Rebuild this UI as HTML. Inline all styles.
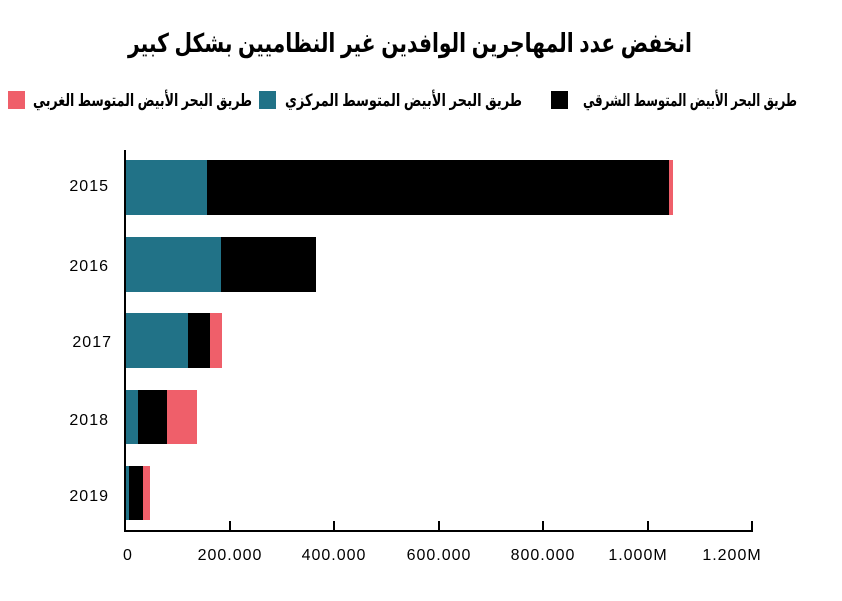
<!DOCTYPE html>
<html><head><meta charset="utf-8"><style>
body{margin:0;background:#fff;}
svg text{font-family:"Liberation Sans","DejaVu Sans",sans-serif;}
</style></head><body>
<svg width="842" height="596" viewBox="0 0 842 596" xmlns="http://www.w3.org/2000/svg">
<rect width="842" height="596" fill="#fff"/>
<text x="410" y="52" text-anchor="middle" font-size="26" font-weight="bold" fill="#000" direction="rtl" textLength="564" lengthAdjust="spacingAndGlyphs">انخفض عدد المهاجرين الوافدين غير النظاميين بشكل كبير</text>
<rect x="551" y="91" width="17" height="18" fill="#000"/>
<text x="797" y="106" direction="rtl" font-size="17" font-weight="bold" textLength="214" lengthAdjust="spacingAndGlyphs">طريق البحر الأبيض المتوسط الشرقي</text>
<rect x="259" y="91" width="17" height="18" fill="#217287"/>
<text x="522" y="106" direction="rtl" font-size="17" font-weight="bold" textLength="237" lengthAdjust="spacingAndGlyphs">طريق البحر الأبيض المتوسط المركزي</text>
<rect x="8" y="91" width="17" height="18" fill="#ef5f6a"/>
<text x="252" y="106" direction="rtl" font-size="17" font-weight="bold" textLength="219" lengthAdjust="spacingAndGlyphs">طريق البحر الأبيض المتوسط  الغربي</text>
<g>
<rect x="125" y="160" width="82" height="55" fill="#217287"/><rect x="207" y="160" width="462" height="55" fill="#000"/><rect x="669" y="160" width="4" height="55" fill="#ef5f6a"/>
<rect x="125" y="237" width="96" height="55" fill="#217287"/><rect x="221" y="237" width="95" height="55" fill="#000"/>
<rect x="125" y="313" width="63" height="55" fill="#217287"/><rect x="188" y="313" width="22" height="55" fill="#000"/><rect x="210" y="313" width="12" height="55" fill="#ef5f6a"/>
<rect x="125" y="390" width="13" height="54" fill="#217287"/><rect x="138" y="390" width="29" height="54" fill="#000"/><rect x="167" y="390" width="30" height="54" fill="#ef5f6a"/>
<rect x="125" y="466" width="4" height="54" fill="#217287"/><rect x="129" y="466" width="14" height="54" fill="#000"/><rect x="143" y="466" width="7" height="54" fill="#ef5f6a"/>
</g>
<line x1="125" y1="150" x2="125" y2="532" stroke="#000" stroke-width="2"/>
<line x1="124" y1="531" x2="753" y2="531" stroke="#000" stroke-width="2"/>
<g stroke="#000" stroke-width="2">
<line x1="230" y1="521" x2="230" y2="531"/><line x1="334" y1="521" x2="334" y2="531"/><line x1="439" y1="521" x2="439" y2="531"/><line x1="543" y1="521" x2="543" y2="531"/><line x1="648" y1="521" x2="648" y2="531"/><line x1="752" y1="521" x2="752" y2="531"/>
</g>
<g font-size="16" fill="#000" letter-spacing="1">
<text x="109" y="191" text-anchor="end">2015</text>
<text x="109" y="271" text-anchor="end">2016</text>
<text x="112" y="347" text-anchor="end">2017</text>
<text x="109" y="425" text-anchor="end">2018</text>
<text x="109" y="501" text-anchor="end">2019</text>
</g>
<g font-size="16" fill="#000" text-anchor="middle" letter-spacing="1">
<text x="128" y="560">0</text>
<text x="230" y="560">200.000</text>
<text x="334" y="560">400.000</text>
<text x="439" y="560">600.000</text>
<text x="543" y="560">800.000</text>
<text x="638" y="560">1.000M</text>
<text x="732" y="560">1.200M</text>
</g>
</svg>
</body></html>
